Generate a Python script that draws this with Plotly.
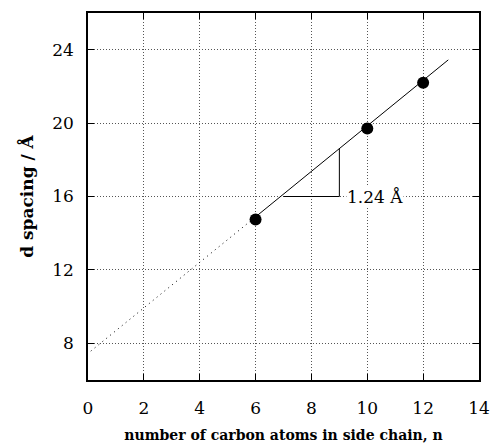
import plotly.graph_objects as go

# data
n_carbon = [6, 10, 12]
d_spacing = [14.75, 19.7, 22.2]
fit_slope = 1.24
fit_intercept = 7.45
fit_dotted_x = [0.1, 6]
fit_solid_x = [6, 12.9]
tri_x = [7.0, 9.0, 9.0]
x_ticks = [0, 2, 4, 6, 8, 10, 12, 14]
y_ticks = [8, 12, 16, 20, 24]

def fit(xs):
    return [fit_intercept + fit_slope * x for x in xs]

font_family = "DejaVu Serif"

fig = go.Figure()
fig.add_trace(go.Scatter(x=fit_dotted_x, y=fit(fit_dotted_x), mode="lines",
                         line=dict(color="black", width=1, dash="1px,4px"), showlegend=False))
fig.add_trace(go.Scatter(x=fit_solid_x, y=fit(fit_solid_x), mode="lines",
                         line=dict(color="black", width=1), showlegend=False))
# slope triangle
tri_y = [16.0, 16.0, fit([9.0])[0]]
fig.add_trace(go.Scatter(x=tri_x, y=tri_y, mode="lines",
                         line=dict(color="black", width=1), showlegend=False))
fig.add_trace(go.Scatter(x=n_carbon, y=d_spacing, mode="markers",
                         marker=dict(color="black", size=12), showlegend=False))

fig.add_annotation(x=9.25, y=16.0, text="1.24 Å", showarrow=False, xanchor="left",
                   yanchor="middle", font=dict(family=font_family, size=17, color="black"),
                   bgcolor="white", borderpad=0)

axis_common = dict(showline=True, linecolor="black", linewidth=1.5, mirror="ticks",
                   ticks="inside", ticklen=6, tickcolor="black", tickwidth=1,
                   showgrid=True, gridcolor="#555", gridwidth=1, griddash="1px,2px",
                   zeroline=False, automargin=False,
                   tickfont=dict(family=font_family, size=17, color="black"))

fig.update_xaxes(range=[0, 14], tickvals=x_ticks, ticklabelstandoff=12,
                 title=dict(text="<b>number of carbon atoms in side chain, n</b>",
                            font=dict(family=font_family, size=14, color="black"), standoff=13),
                 **axis_common)
fig.update_yaxes(range=[6, 26], tickvals=y_ticks, ticklabelstandoff=9,
                 title=dict(text="<b>d spacing / Å</b>",
                            font=dict(family=font_family, size=17, color="black"), standoff=14),
                 **axis_common)

fig.update_layout(width=490, height=443, margin=dict(l=88, r=11, t=13, b=63),
                  paper_bgcolor="white", plot_bgcolor="white")

# remove the browser's default 8px body margin so the figure fills the window exactly
fig.write_html("out.html", config={"displayModeBar": False},
               post_script="document.body.style.margin='0';document.body.style.overflow='hidden';")
